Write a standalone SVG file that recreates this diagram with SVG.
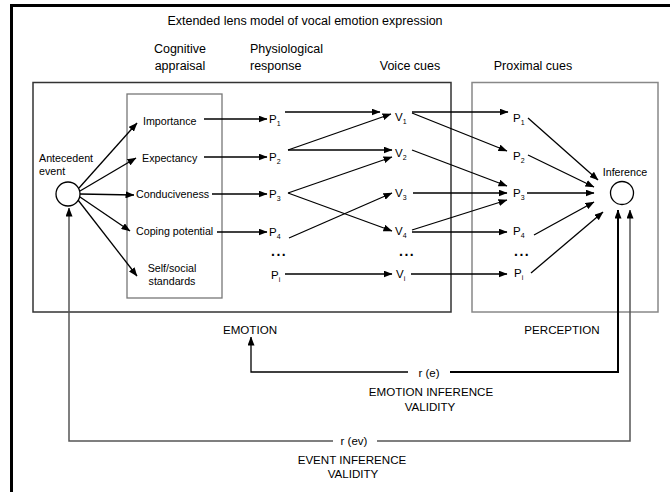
<svg xmlns="http://www.w3.org/2000/svg" width="670" height="492" viewBox="0 0 670 492">
<defs>
<marker id="ah" markerUnits="userSpaceOnUse" markerWidth="9" markerHeight="7" refX="8.5" refY="3.5" orient="auto">
<path d="M0,0 L9,3.5 L0,7 z" fill="#000"/>
</marker>
<marker id="ahg" markerUnits="userSpaceOnUse" markerWidth="9" markerHeight="7" refX="8.5" refY="3.5" orient="auto">
<path d="M0,0 L9,3.5 L0,7 z" fill="#000"/>
</marker>
</defs>
<style>
text{font-family:"Liberation Sans",Arial,sans-serif;fill:#000}
.h{font-size:12.5px}
.l{font-size:10.7px}
.c{font-size:11.6px}
.v{font-size:11.5px}
.s{font-size:7px}
.m{text-anchor:middle}
.a{stroke:#000;stroke-width:1.3;fill:none;marker-end:url(#ah)}
.ln{stroke:#000;stroke-width:1.3;fill:none}
.dots{font-size:14px;font-weight:bold;letter-spacing:1.5px}
</style>
<rect width="670" height="492" fill="#fff"/>
<path d="M11.5,492 V5.5 H670" fill="none" stroke="#000" stroke-width="3"/>
<text class="h m" x="305" y="25">Extended lens model of vocal emotion expression</text>
<g id="headings">
<text class="h m" x="180" y="53">Cognitive</text>
<text class="h m" x="180" y="70">appraisal</text>
<text class="h" x="250" y="53">Physiological</text>
<text class="h" x="250" y="70">response</text>
<text class="h m" x="410" y="70">Voice cues</text>
<text class="h m" x="533" y="70">Proximal cues</text>
</g>
<g id="emotion-box">
<rect x="33" y="82.5" width="418" height="229.5" fill="none" stroke="#333" stroke-width="1.5"/>
<text class="c m" x="250" y="334">EMOTION</text>
</g>
<g id="perception-box">
<rect x="472" y="82.5" width="186" height="229.5" fill="none" stroke="#888" stroke-width="1.5"/>
<text class="c m" x="562" y="334">PERCEPTION</text>
</g>
<g id="appraisal-box">
<rect x="127" y="94" width="95" height="204" fill="none" stroke="#777" stroke-width="1.3"/>
<text class="l" x="143" y="125">Importance</text>
<text class="l" x="142" y="162">Expectancy</text>
<text class="l" x="136" y="198">Conduciveness</text>
<text class="l" x="136" y="235">Coping potential</text>
<text class="l m" x="172" y="272">Self/social</text>
<text class="l m" x="172" y="285">standards</text>
</g>
<g id="antecedent">
<circle cx="68" cy="194" r="12" fill="#fff" stroke="#000" stroke-width="1.3"/>
<text class="l" x="39" y="162">Antecedent</text>
<text class="l" x="39" y="175">event</text>
</g>
<g id="inference">
<circle cx="622" cy="193" r="11.5" fill="#fff" stroke="#000" stroke-width="1.3"/>
<text class="l m" x="625" y="176">Inference</text>
</g>
<g id="physiological">
<text class="v" x="269" y="123">P<tspan class="s" dy="3">1</tspan></text>
<text class="v" x="269" y="161">P<tspan class="s" dy="3">2</tspan></text>
<text class="v" x="269" y="198">P<tspan class="s" dy="3">3</tspan></text>
<text class="v" x="269" y="236">P<tspan class="s" dy="3">4</tspan></text>
<text class="dots" x="271" y="256">...</text>
<text class="v" x="271" y="279">P<tspan class="s" dy="3">i</tspan></text>
</g>
<g id="voice">
<text class="v" x="395" y="121">V<tspan class="s" dy="3">1</tspan></text>
<text class="v" x="395" y="157">V<tspan class="s" dy="3">2</tspan></text>
<text class="v" x="395" y="197">V<tspan class="s" dy="3">3</tspan></text>
<text class="v" x="395" y="235">V<tspan class="s" dy="3">4</tspan></text>
<text class="dots" x="399" y="256">...</text>
<text class="v" x="396" y="278">V<tspan class="s" dy="3">i</tspan></text>
</g>
<g id="proximal">
<text class="v" x="513" y="122">P<tspan class="s" dy="3">1</tspan></text>
<text class="v" x="513" y="160">P<tspan class="s" dy="3">2</tspan></text>
<text class="v" x="513" y="197">P<tspan class="s" dy="3">3</tspan></text>
<text class="v" x="513" y="235">P<tspan class="s" dy="3">4</tspan></text>
<text class="dots" x="514" y="256">...</text>
<text class="v" x="514" y="277">P<tspan class="s" dy="3">i</tspan></text>
</g>
<g id="validity-labels">
<text class="v m" x="429" y="377">r (e)</text>
<text class="c m" x="431" y="396">EMOTION INFERENCE</text>
<text class="c m" x="430" y="411">VALIDITY</text>
<text class="v m" x="354" y="445">r (ev)</text>
<text class="c m" x="352" y="464">EVENT INFERENCE</text>
<text class="c m" x="353" y="478">VALIDITY</text>
</g>
<g id="connectors">
<line class="a" x1="79" y1="188" x2="137" y2="123"/>
<line class="a" x1="80" y1="191" x2="136" y2="158"/>
<line class="a" x1="80" y1="194" x2="134" y2="195"/>
<line class="a" x1="80" y1="197" x2="130" y2="231"/>
<line class="a" x1="78" y1="200" x2="137" y2="276"/>
<line class="a" x1="204" y1="119" x2="267" y2="119"/>
<line class="a" x1="204" y1="157" x2="267" y2="157"/>
<line class="a" x1="212" y1="194" x2="267" y2="194"/>
<line class="a" x1="217" y1="232" x2="267" y2="232"/>
<line class="a" x1="285" y1="112" x2="380" y2="112"/>
<line class="a" x1="288" y1="150" x2="391" y2="114"/>
<line class="a" x1="288" y1="150" x2="392" y2="150"/>
<line class="a" x1="288" y1="193" x2="392" y2="157"/>
<line class="a" x1="288" y1="193" x2="392" y2="231"/>
<line class="a" x1="289" y1="238" x2="392" y2="193"/>
<line class="a" x1="285" y1="274" x2="392" y2="274"/>
<line class="a" x1="412" y1="112" x2="508" y2="112"/>
<line class="a" x1="412" y1="113" x2="507" y2="151"/>
<line class="a" x1="412" y1="150" x2="507" y2="186"/>
<line class="a" x1="413" y1="193" x2="507" y2="193"/>
<line class="a" x1="412" y1="230" x2="507" y2="200"/>
<line class="a" x1="412" y1="232" x2="507" y2="232"/>
<line class="a" x1="411" y1="274" x2="507" y2="274"/>
<line class="a" x1="528" y1="118" x2="598" y2="180"/>
<line class="a" x1="528" y1="155" x2="594" y2="187"/>
<line class="a" x1="527" y1="193" x2="594" y2="193"/>
<line class="a" x1="534" y1="235" x2="594" y2="202"/>
<line class="a" x1="531" y1="273" x2="603" y2="212"/>
<path d="M450,372 H618 V210" fill="none" stroke="#000" stroke-width="2" marker-end="url(#ah)"/>
<path d="M408,372 H251 V337" class="a"/>
<path d="M377,441 H630 V210" fill="none" stroke="#555" stroke-width="1.5" marker-end="url(#ahg)"/>
<path d="M333,441 H69 V208" fill="none" stroke="#555" stroke-width="1.5" marker-end="url(#ahg)"/>
</g>
</svg>
